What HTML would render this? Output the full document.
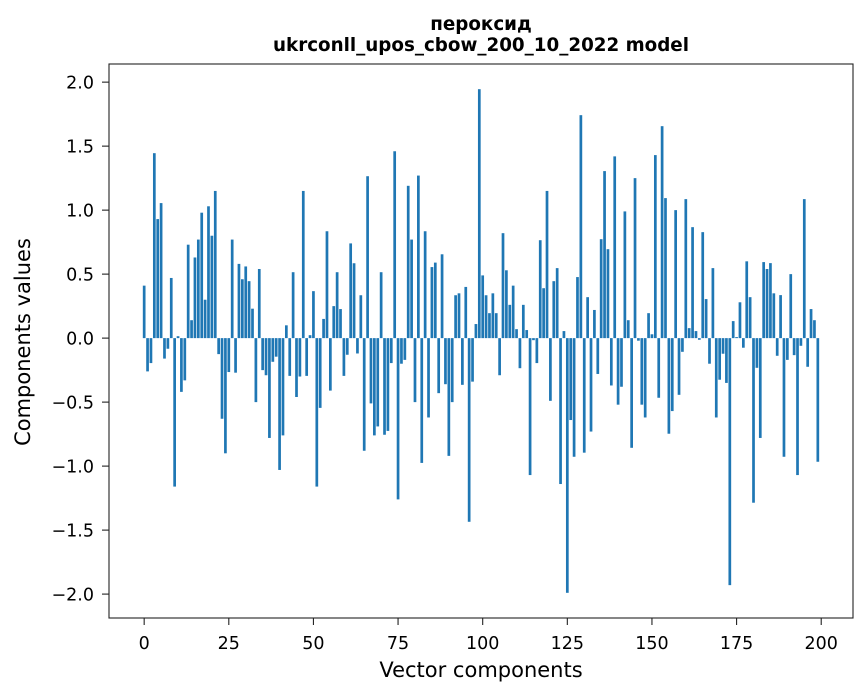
<!DOCTYPE html>
<html><head><meta charset="utf-8"><style>
body{margin:0;background:#fff;}
svg{display:block;font-family:"DejaVu Sans","Liberation Sans",sans-serif;}
</style></head><body>
<svg id="chart" width="867" height="696" viewBox="0 0 867 696" xmlns="http://www.w3.org/2000/svg">
<rect width="867" height="696" fill="#fff"/>
<text x="481" y="30" text-anchor="middle" font-size="18.3" font-weight="bold">пероксид</text>
<text x="481" y="51" text-anchor="middle" font-size="18.3" font-weight="bold">ukrconll_upos_cbow_200_10_2022 model</text>
<g id="bars"></g>
<g id="axes"></g>
<text x="481" y="677" text-anchor="middle" font-size="21">Vector components</text>
<text transform="translate(30,342) rotate(-90)" text-anchor="middle" font-size="21">Components values</text>
</svg>
<script>
const values = [0.41,-0.26,-0.195,1.445,0.93,1.055,-0.16,-0.083,0.47,-1.16,
0.015,-0.42,-0.33,0.73,0.14,0.63,0.77,0.98,0.30,1.03,
0.80,1.15,-0.125,-0.63,-0.90,-0.265,0.77,-0.27,0.58,0.46,
0.56,0.445,0.23,-0.50,0.54,-0.25,-0.29,-0.78,-0.185,-0.145,
-1.03,-0.76,0.10,-0.295,0.515,-0.46,-0.30,1.15,-0.295,0.023,
0.367,-1.16,-0.545,0.15,0.835,-0.41,0.25,0.515,0.227,-0.295,
-0.13,0.74,0.585,-0.12,0.335,-0.88,1.265,-0.51,-0.76,-0.69,
0.515,-0.755,-0.725,-0.195,1.46,-1.26,-0.20,-0.17,1.19,0.77,
-0.50,1.27,-0.975,0.835,-0.62,0.555,0.59,-0.43,0.655,-0.36,
-0.92,-0.50,0.335,0.35,-0.365,0.40,-1.435,-0.34,0.11,1.945,
0.49,0.335,0.195,0.35,0.195,-0.29,0.82,0.53,0.26,0.41,
0.07,-0.235,0.26,0.063,-1.07,-0.016,-0.195,0.765,0.39,1.15,
-0.49,0.445,0.547,-1.14,0.055,-1.99,-0.64,-0.927,0.477,1.742,
-0.895,0.32,-0.73,0.22,-0.28,0.773,1.305,0.695,-0.37,1.42,
-0.52,-0.38,0.99,0.14,-0.857,1.25,-0.02,-0.52,-0.62,0.195,
0.03,1.43,-0.466,1.656,1.094,-0.747,-0.57,1.0,-0.443,-0.107,
1.086,0.078,0.867,0.055,-0.013,0.828,0.305,-0.2,0.547,-0.62,
-0.325,-0.122,-0.35,-1.93,0.133,0.008,0.28,-0.075,0.60,0.32,
-1.286,-0.232,-0.78,0.594,0.54,0.586,0.35,-0.138,0.336,-0.927,
-0.17,0.50,-0.133,-1.07,-0.06,1.086,-0.224,0.227,0.14,-0.966];
const xTicks = [0,25,50,75,100,125,150,175,200];
const yTicks = [-2.0,-1.5,-1.0,-0.5,0.0,0.5,1.0,1.5,2.0];

const NS="http://www.w3.org/2000/svg";
const L=109,R=853,T=64,B=618;
const n=values.length;
const xmin=-0.4-0.05*(n-1+0.8), xmax=(n-1)+0.4+0.05*(n-1+0.8);
const vmin=Math.min(0,...values), vmax=Math.max(0,...values);
const pad=0.05*(vmax-vmin);
const ymin=vmin-pad, ymax=vmax+pad;
const xs=v=>L+(v-xmin)/(xmax-xmin)*(R-L);
const ys=v=>B-(v-ymin)/(ymax-ymin)*(B-T);
const bars=document.getElementById('bars');
const bw=xs(0.8)-xs(0);
values.forEach((v,i)=>{
  const r=document.createElementNS(NS,'rect');
  
  
  const y0=ys(0), y1=ys(v);
  r.setAttribute('x',xs(i)-bw/2);
  r.setAttribute('width',bw);
  r.setAttribute('y',Math.min(y0,y1));
  r.setAttribute('height',Math.abs(y1-y0));
  r.setAttribute('fill','#1f77b4');
  bars.appendChild(r);
});
const ax=document.getElementById('axes');
const frame=document.createElementNS(NS,'rect');


frame.setAttribute('x',L);frame.setAttribute('y',T);
frame.setAttribute('width',R-L);frame.setAttribute('height',B-T);
frame.setAttribute('fill','none');frame.setAttribute('stroke','#222');frame.setAttribute('stroke-width','1.1');
ax.appendChild(frame);
xTicks.forEach(t=>{
  const x=xs(t);
  const ln=document.createElementNS(NS,'line');
  
  
  ln.setAttribute('x1',x);ln.setAttribute('x2',x);ln.setAttribute('y1',B);ln.setAttribute('y2',B+7);
  ln.setAttribute('stroke','#222');ln.setAttribute('stroke-width','1.1');
  ax.appendChild(ln);
  const tx=document.createElementNS(NS,'text');
  
  
  tx.setAttribute('x',x);tx.setAttribute('y',B+31);
  tx.setAttribute('text-anchor','middle');tx.setAttribute('font-size','17.5');
  tx.textContent=String(t);
  ax.appendChild(tx);
});
yTicks.forEach(t=>{
  const y=ys(t);
  const ln=document.createElementNS(NS,'line');
  
  
  ln.setAttribute('x1',L-7);ln.setAttribute('x2',L);ln.setAttribute('y1',y);ln.setAttribute('y2',y);
  ln.setAttribute('stroke','#222');ln.setAttribute('stroke-width','1.1');
  ax.appendChild(ln);
  const tx=document.createElementNS(NS,'text');
  
  
  tx.setAttribute('x',L-15);tx.setAttribute('y',y+6.5);
  tx.setAttribute('text-anchor','end');tx.setAttribute('font-size','17.5');
  tx.textContent=(t<0?'\u2212':'')+Math.abs(t).toFixed(1);
  ax.appendChild(tx);
});
</script>
</body></html>
